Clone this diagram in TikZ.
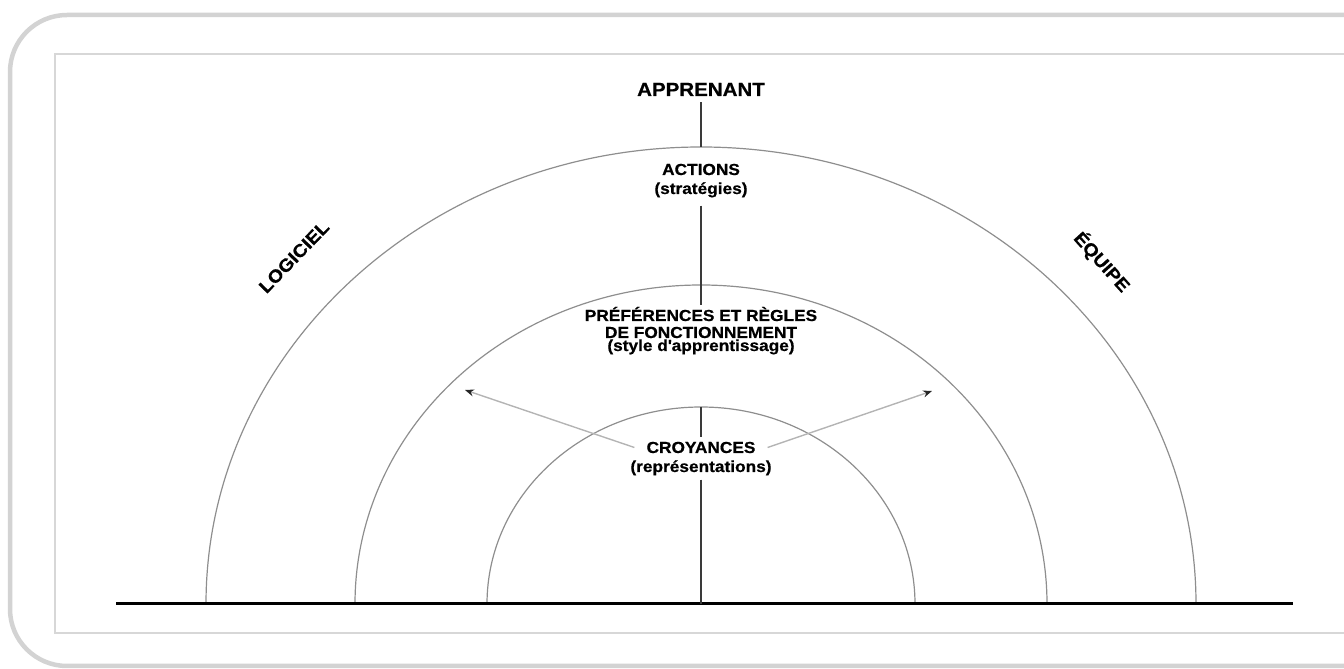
\documentclass[tikz,border=0pt]{standalone}
\usepackage{fontspec}
\setmainfont{Liberation Sans}[FakeStretch=1.08,BoldFeatures={FakeBold=0.6}]
\usetikzlibrary{arrows.meta,calc}
\definecolor{framegray}{HTML}{D3D3D3}
\definecolor{arcgray}{HTML}{8E8E8E}
\definecolor{axisgray}{HTML}{3A3A3A}
\definecolor{arrowgray}{HTML}{B4B4B4}
\begin{document}
\begin{tikzpicture}[x=1pt,y=1pt,
  lbl/.style={inner sep=0pt,anchor=base,font=\fontsize{16}{18}\selectfont\bfseries},
  biglbl/.style={inner sep=0pt,font=\fontsize{19}{22}\selectfont\bfseries},
  sidelbl/.style={inner sep=0pt,font=\fontsize{18}{21}\selectfont\bfseries},
  ring/.style={draw=arcgray,line width=1.2pt},
  axis/.style={draw=axisgray,line width=2pt},
  ray/.style={draw=arrowgray,line width=1.4pt,-{Stealth[length=9pt,width=7pt,color=black!85]}}]
\useasboundingbox (0,0) rectangle (1344,669);
% frames
\draw[framegray,line width=4.5pt,rounded corners=57pt] (1400,654) -- (10,654) -- (10,3) -- (1400,3);
\draw[framegray!90,line width=2.5pt] (1400,615) -- (55,615) -- (55,36) -- (1400,36);
% rings
\draw[ring] (206,65) arc[start angle=180,end angle=0,x radius=495,y radius=457];
\draw[ring] (355,65) arc[start angle=180,end angle=0,x radius=346,y radius=319];
\draw[ring] (487,65) arc[start angle=180,end angle=0,x radius=214,y radius=197];
% baseline
\coordinate (bl) at (116,65);
\coordinate (br) at (1293,65);
\coordinate (bc) at (701,65);
\draw[black,line width=3pt] (bl) -- (br);
% tops of rings
\coordinate (outerTop) at (701,522);
\coordinate (innerTop) at (701,262);
% texts
\node[biglbl,anchor=base] (app) at (701,573) {APPRENANT};
\node[lbl] (act1) at (701,494) {ACTIONS};
\node[lbl] (act2) at (701,475) {(stratégies)};
\node[lbl] (pref1) at (701,348) {PRÉFÉRENCES ET RÈGLES};
\node[lbl] (pref2) at (701,331) {DE FONCTIONNEMENT};
\node[lbl] (pref3) at (701,318) {(style d\textquotesingle apprentissage)};
\node[lbl] (croy1) at (701,216) {CROYANCES};
\node[lbl] (croy2) at (701,197) {(représentations)};
\node[sidelbl,rotate=46] (logi) at (294,412) {LOGICIEL};
\node[sidelbl,rotate=-48] (equi) at (1102,407) {ÉQUIPE};
% axis
\draw[axis,shorten <=6pt] (app.south) -- (outerTop);
\draw[axis,shorten <=8pt,shorten >=2pt] (act2.south) -- (pref1.north);
\draw[axis,shorten >=5pt] (innerTop) -- (croy1.north);
\draw[axis,shorten <=4pt] (croy2.south) -- (bc);
% rays
\coordinate (tipL) at (465,279);
\coordinate (tipR) at (932,278);
\draw[ray] ($(croy1.west)+(-12,0)$) -- (tipL);
\draw[ray] ($(croy1.east)+(12,0)$) -- (tipR);
\end{tikzpicture}
\end{document}
